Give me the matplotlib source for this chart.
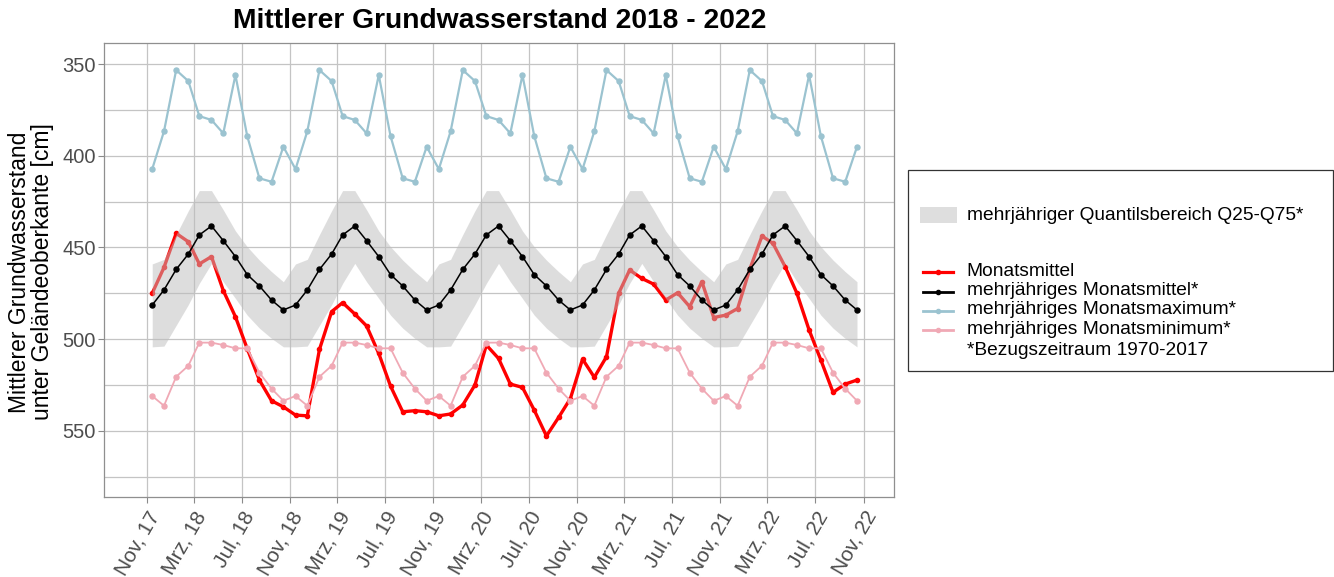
import matplotlib
matplotlib.use("Agg")
import matplotlib.pyplot as plt
from matplotlib.lines import Line2D
from matplotlib.patches import Rectangle
import numpy as np
import pandas as pd

plt.rcParams['font.family'] = ['Liberation Sans', 'DejaVu Sans']

# ---- data ----
# monthly values, Nov 2017 .. Oct 2022 (60 months), plotted at mid-month
dates = pd.date_range('2017-11-01', periods=60, freq='MS') + pd.Timedelta(days=14)

monatsmittel = [
    475.0, 460.9, 442.3, 446.9, 459.0, 455.0, 473.5, 487.8, 505.2, 522.3, 533.6, 536.9,   # Nov17-Oct18
    541.4, 541.8, 505.6, 485.0, 480.1, 486.3, 492.8, 507.8, 525.6, 539.6, 539.0, 539.6,   # Nov18-Oct19
    541.8, 540.8, 535.9, 525.0, 503.2, 510.5, 524.5, 526.3, 538.7, 552.8, 542.7, 532.4,   # Nov19-Oct20
    510.9, 520.8, 509.6, 475.0, 462.3, 466.9, 470.0, 478.7, 474.7, 482.3, 468.7, 488.2,   # Nov20-Oct21
    486.9, 483.3, 461.8, 443.8, 447.8, 460.5, 475.0, 495.0, 511.4, 529.0, 524.5, 522.3,   # Nov21-Oct22
]

# long-term (1970-2017) monthly statistics, months Nov..Oct
lt_mittel = [481.4, 473.2, 462.0, 453.6, 443.2, 438.3, 446.3, 455.0, 464.8, 471.0, 478.7, 484.1]
lt_max    = [407.3, 386.7, 353.3, 359.3, 378.4, 380.5, 387.8, 356.0, 389.3, 412.3, 414.2, 395.1]
lt_min    = [531.0, 536.3, 520.5, 514.5, 501.9, 501.9, 503.2, 505.0, 505.0, 518.3, 527.0, 533.6]
lt_q25    = [459.0, 456.5, 443.0, 430.0, 419.0, 419.0, 429.5, 441.0, 449.6, 456.9, 463.2, 468.7]
lt_q75    = [504.2, 503.8, 492.5, 481.2, 469.6, 458.7, 468.7, 477.8, 486.9, 494.0, 499.6, 504.2]
n_years = 5

tick_labels = ['Nov, 17', 'Mrz, 18', 'Jul, 18', 'Nov, 18', 'Mrz, 19', 'Jul, 19',
               'Nov, 19', 'Mrz, 20', 'Jul, 20', 'Nov, 20', 'Mrz, 21', 'Jul, 21',
               'Nov, 21', 'Mrz, 22', 'Jul, 22', 'Nov, 22']
tick_dates = pd.date_range('2017-11-01', periods=len(tick_labels), freq='4MS')

legend_labels = ['mehrjähriger Quantilsbereich Q25-Q75*', 'Monatsmittel',
                 'mehrjähriges Monatsmittel*', 'mehrjähriges Monatsmaximum*',
                 'mehrjähriges Monatsminimum*', '*Bezugszeitraum 1970-2017']

# ---- styles ----
RED = '#ff0000'
BLACK = '#000000'
BLUE = '#9bc3d0'
PINK = '#f0a9b5'
BAND = '#bdbdbd'
GRID = '#c4c4c4'
TICKTXT = '#4d4d4d'

W, H = 1334, 577
fig = plt.figure(figsize=(W / 100, H / 100), dpi=100)
L, R, T, B = 104.3, 894.3, 43.3, 496.7
ax = fig.add_axes([L / W, 1 - B / H, (R - L) / W, (B - T) / H])

mt = np.tile(lt_mittel, n_years)
mx = np.tile(lt_max, n_years)
mn = np.tile(lt_min, n_years)
q25 = np.tile(lt_q25, n_years)
q75 = np.tile(lt_q75, n_years)

ax.plot(dates, monatsmittel, color=RED, lw=2.4, marker='o', ms=3.0, zorder=3)
ax.fill_between(dates, q25, q75, color=BAND, alpha=0.5, lw=0, zorder=4)
ax.plot(dates, mx, color=BLUE, lw=1.6, marker='o', ms=3.6, zorder=5)
ax.plot(dates, mn, color=PINK, lw=1.3, marker='o', ms=3.6, zorder=5)
ax.plot(dates, mt, color=BLACK, lw=1.1, marker='o', ms=3.6, zorder=6)

ax.set_xlim(pd.Timestamp('2017-07-16'), pd.Timestamp('2023-01-18'))
ax.set_ylim(585.9, 338.7)

ax.set_xticks(tick_dates)
ax.set_xticklabels(tick_labels, rotation=60, ha='right', va='top',
                   rotation_mode='anchor', fontsize=15, color=TICKTXT)
ax.set_yticks([350, 400, 450, 500, 550])
ax.set_yticks([375, 425, 475, 525, 575], minor=True)
ax.tick_params(axis='y', labelsize=14.5, labelcolor=TICKTXT, color='#8a8a8a',
               length=4, width=0.8, pad=2)
ax.tick_params(axis='y', which='minor', length=0)
ax.tick_params(axis='x', color='#8a8a8a', length=4, width=0.8, pad=4)

ax.grid(True, which='major', color=GRID, lw=0.9, zorder=0)
ax.grid(True, which='minor', axis='y', color=GRID, lw=0.9, zorder=0)
ax.set_axisbelow(True)
for s in ax.spines.values():
    s.set_color('#8f8f8f')
    s.set_linewidth(0.9)

fig.text(31 / W, 1 - 272 / H, 'Mittlerer Grundwasserstand\nunter Geländeoberkante [cm]',
         rotation=90, ha='center', va='center', fontsize=16.5, linespacing=0.95,
         color='black')

fig.text((L + R) / 2 / W, 1 - 21 / H, 'Mittlerer Grundwasserstand 2018 - 2022',
         ha='center', va='center', fontsize=20.3, fontweight='bold')

# ---- legend (figure pixel coordinates) ----
def fx(x):
    return x / W

def fy(y):
    return 1 - y / H

fig.patches.append(Rectangle((fx(908.3), fy(370.7)), fx(1332.5) - fx(908.3), fy(170) - fy(370.7),
                             transform=fig.transFigure, fill=False, edgecolor='#333333', lw=0.9))
fig.patches.append(Rectangle((fx(920), fy(222.7)), fx(957) - fx(920), fy(206.7) - fy(222.7),
                             transform=fig.transFigure, facecolor='#dedede', edgecolor='none'))
LEGFS = 13.8
fig.text(fx(966.7), fy(216), legend_labels[0], ha='left', va='center', fontsize=LEGFS)

leg_styles = [(RED, 2.3, 3.0), (BLACK, 2.0, 3.0), (BLUE, 2.0, 3.0), (PINK, 2.0, 3.0)]
leg_y = [272.3, 291.7, 311.0, 330.0]
for (c, lw, ms), yy, lab in zip(leg_styles, leg_y, legend_labels[1:5]):
    fig.lines.append(Line2D([fx(923.3), fx(953.3)], [fy(yy), fy(yy)], color=c, lw=lw,
                            transform=fig.transFigure))
    fig.lines.append(Line2D([fx(938.3)], [fy(yy)], color=c, marker='o', ms=ms,
                            transform=fig.transFigure))
    fig.text(fx(966.7), fy(yy - 1.0), lab, ha='left', va='center', fontsize=LEGFS)
fig.text(fx(966.7), fy(350.5), legend_labels[5], ha='left', va='center', fontsize=LEGFS)

fig.savefig('out.png', dpi=100)
